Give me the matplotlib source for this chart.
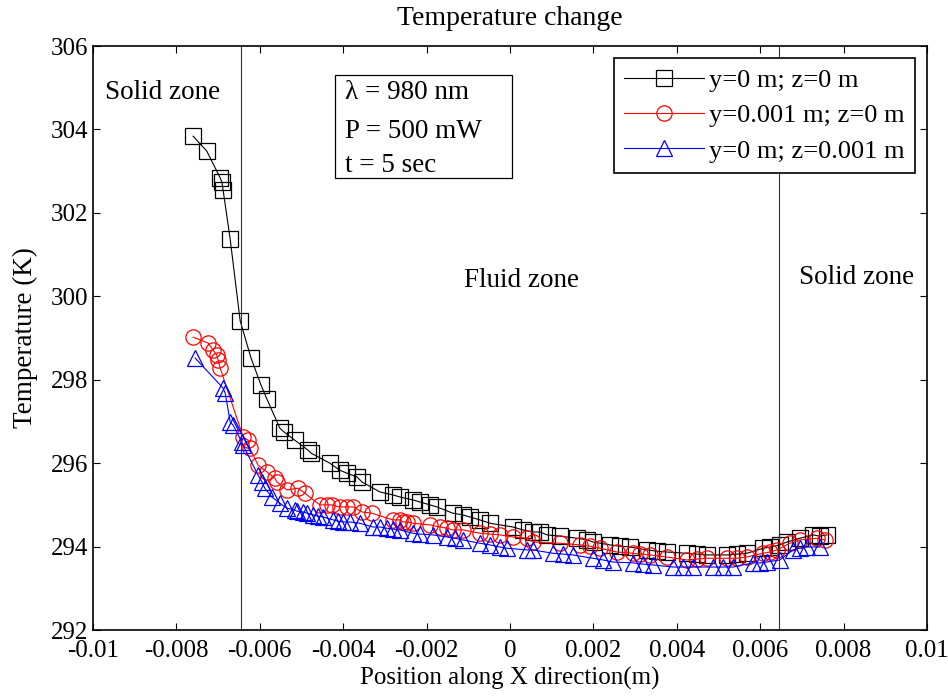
import numpy as np
import matplotlib
matplotlib.use('Agg')
from matplotlib import pyplot as plt
from matplotlib.patches import Rectangle

plt.rcParams['font.family'] = ['Liberation Serif', 'DejaVu Serif']

# y=0 m; z=0 m
x_a = [-0.00760, -0.00727, -0.00695, -0.00691, -0.00688, -0.00671, -0.00647, -0.00621,
       -0.00597, -0.00583, -0.00552, -0.00542, -0.00516, -0.00484, -0.00477, -0.00432,
       -0.00408, -0.00391, -0.00367, -0.00355, -0.00312, -0.00281, -0.00264, -0.00233,
       -0.00216, -0.00192, -0.00175, -0.00137, -0.00113, -0.00096, -0.00072, -0.00048,
       0.00007, 0.00031, 0.00055, 0.00072, 0.00089, 0.00120, 0.00161, 0.00185,
       0.00199, 0.00240, 0.00264, 0.00288, 0.00329, 0.00353, 0.00376, 0.00424,
       0.00448, 0.00472, 0.00520, 0.00544, 0.00568, 0.00607, 0.00624, 0.00647,
       0.00664, 0.00695, 0.00727, 0.00743, 0.00760]
t_a = [303.84, 303.48, 302.84, 302.74, 302.55, 301.37, 299.41, 298.52,
       297.87, 297.54, 296.84, 296.75, 296.55, 296.31, 296.24, 296.00,
       295.83, 295.76, 295.67, 295.55, 295.31, 295.24, 295.19, 295.12,
       295.07, 295.00, 294.95, 294.80, 294.76, 294.71, 294.64, 294.56,
       294.47, 294.40, 294.35, 294.35, 294.28, 294.25, 294.20, 294.16,
       294.11, 294.04, 294.01, 293.99, 293.92, 293.89, 293.87, 293.84,
       293.82, 293.80, 293.80, 293.82, 293.84, 293.96, 293.99, 294.04,
       294.11, 294.20, 294.28, 294.25, 294.28]

# y=0.001 m; z=0 m
x_b = [-0.00760, -0.00724, -0.00712, -0.00703, -0.00700, -0.00695, -0.00640, -0.00628,
       -0.00624, -0.00604, -0.00583, -0.00564, -0.00559, -0.00535, -0.00508, -0.00492,
       -0.00456, -0.00439, -0.00427, -0.00408, -0.00391, -0.00376, -0.00355, -0.00331,
       -0.00281, -0.00264, -0.00257, -0.00247, -0.00233, -0.00192, -0.00168, -0.00151,
       -0.00137, -0.00113, -0.00072, -0.00048, -0.00024, 0.00007, 0.00041, 0.00055,
       0.00120, 0.00168, 0.00192, 0.00216, 0.00257, 0.00295, 0.00312, 0.00336,
       0.00376, 0.00424, 0.00448, 0.00472, 0.00520, 0.00544, 0.00568, 0.00607,
       0.00624, 0.00640, 0.00671, 0.00695, 0.00736, 0.00755]
t_b = [299.02, 298.88, 298.71, 298.59, 298.47, 298.28, 296.63, 296.55,
       296.36, 295.95, 295.79, 295.64, 295.55, 295.36, 295.40, 295.28,
       295.00, 295.00, 295.00, 294.95, 294.95, 294.95, 294.83, 294.80,
       294.64, 294.64, 294.59, 294.59, 294.56, 294.52, 294.47, 294.44,
       294.40, 294.40, 294.32, 294.30, 294.28, 294.23, 294.20, 294.11,
       294.08, 294.04, 294.01, 293.96, 293.87, 293.84, 293.82, 293.80,
       293.75, 293.68, 293.70, 293.72, 293.72, 293.72, 293.75, 293.84,
       293.87, 293.92, 294.08, 294.16, 294.20, 294.16]

# y=0 m; z=0.001 m
x_c = [-0.00755, -0.00688, -0.00683, -0.00671, -0.00664, -0.00643, -0.00640, -0.00604,
       -0.00595, -0.00588, -0.00571, -0.00552, -0.00535, -0.00516, -0.00511, -0.00496,
       -0.00487, -0.00472, -0.00460, -0.00448, -0.00424, -0.00412, -0.00400, -0.00384,
       -0.00360, -0.00329, -0.00312, -0.00295, -0.00281, -0.00264, -0.00233, -0.00216,
       -0.00185, -0.00151, -0.00132, -0.00113, -0.00072, -0.00048, -0.00024, -0.00007,
       0.00041, 0.00055, 0.00103, 0.00127, 0.00151, 0.00199, 0.00223, 0.00247,
       0.00295, 0.00319, 0.00343, 0.00391, 0.00415, 0.00439, 0.00487, 0.00511,
       0.00535, 0.00583, 0.00600, 0.00616, 0.00647, 0.00679, 0.00695, 0.00712,
       0.00743]
t_c = [298.52, 297.80, 297.68, 296.99, 296.91, 296.51, 296.43, 295.71,
       295.55, 295.40, 295.19, 295.04, 294.92, 294.88, 294.85, 294.83,
       294.80, 294.76, 294.73, 294.71, 294.64, 294.61, 294.59, 294.59,
       294.56, 294.47, 294.47, 294.44, 294.42, 294.40, 294.32, 294.30,
       294.28, 294.23, 294.20, 294.16, 294.08, 294.04, 293.99, 293.96,
       293.92, 293.92, 293.84, 293.82, 293.80, 293.72, 293.68, 293.63,
       293.61, 293.58, 293.56, 293.51, 293.51, 293.51, 293.51, 293.51,
       293.51, 293.61, 293.61, 293.63, 293.68, 293.92, 293.96, 293.99,
       293.99]

zone_edges = [-0.00646, 0.00646]
xticks = [-0.01, -0.008, -0.006, -0.004, -0.002, 0, 0.002, 0.004, 0.006, 0.008, 0.01]
xtick_labels = ['-0.01', '-0.008', '-0.006', '-0.004', '-0.002', '0',
                '0.002', '0.004', '0.006', '0.008', '0.01']
yticks = [292, 294, 296, 298, 300, 302, 304, 306]

fig = plt.figure(figsize=(9.48, 6.98), dpi=100)
ax = fig.add_axes([0.0981, 0.0974, 0.8797, 0.8366])

fs = 18
ax.plot(x_a, t_a, 'k-s', lw=0.8, ms=11, mfc='none', mew=0.9, label='y=0 m; z=0 m')
ax.plot(x_b, t_b, 'r-o', lw=0.8, ms=11, mfc='none', mew=0.9, label='y=0.001 m; z=0 m')
ax.plot(x_c, t_c, 'b-^', lw=0.8, ms=11, mfc='none', mew=0.9, label='y=0 m; z=0.001 m')
for xe in zone_edges:
    ax.axvline(xe, color='#333333', lw=0.8)

ax.set_xlim(-0.01, 0.01)
ax.set_ylim(292, 306)
ax.set_xticks(xticks)
ax.set_xticklabels(xtick_labels)
ax.set_yticks(yticks)
ax.tick_params(direction='in', top=True, right=True, length=5, width=0.8, labelsize=fs)
ax.tick_params(axis='x', pad=7)
for s in ax.spines.values():
    s.set_linewidth(1.2)

ax.set_title('Temperature change', fontsize=20, pad=15)
ax.set_xlabel('Position along X direction(m)', fontsize=fs, labelpad=4)
ax.set_ylabel('Temperature (K)', fontsize=19.5, labelpad=9)

ax.text(0.084, 0.920, 'Solid zone', transform=ax.transAxes, fontsize=19.5, ha='center', va='center')
ax.text(0.514, 0.599, 'Fluid zone', transform=ax.transAxes, fontsize=19.5, ha='center', va='center')
ax.text(0.915, 0.604, 'Solid zone', transform=ax.transAxes, fontsize=19.5, ha='center', va='center')

ax.add_patch(Rectangle((0.290, 0.774), 0.212, 0.176, transform=ax.transAxes,
                       fill=False, ec='black', lw=0.9))
ax.text(0.302, 0.920, 'λ = 980 nm', transform=ax.transAxes, fontsize=19.5, va='center')
ax.text(0.302, 0.853, 'P = 500 mW', transform=ax.transAxes, fontsize=19.5, va='center')
ax.text(0.302, 0.796, 't = 5 sec', transform=ax.transAxes, fontsize=19.5, va='center')

leg = ax.legend(loc='upper right', fontsize=19, fancybox=False, framealpha=1,
                edgecolor='black', borderaxespad=0.45, handlelength=3.0,
                handletextpad=0.2, labelspacing=0.45, borderpad=0.4)
leg.get_frame().set_linewidth(1.2)

fig.savefig('out.png', dpi=100)
